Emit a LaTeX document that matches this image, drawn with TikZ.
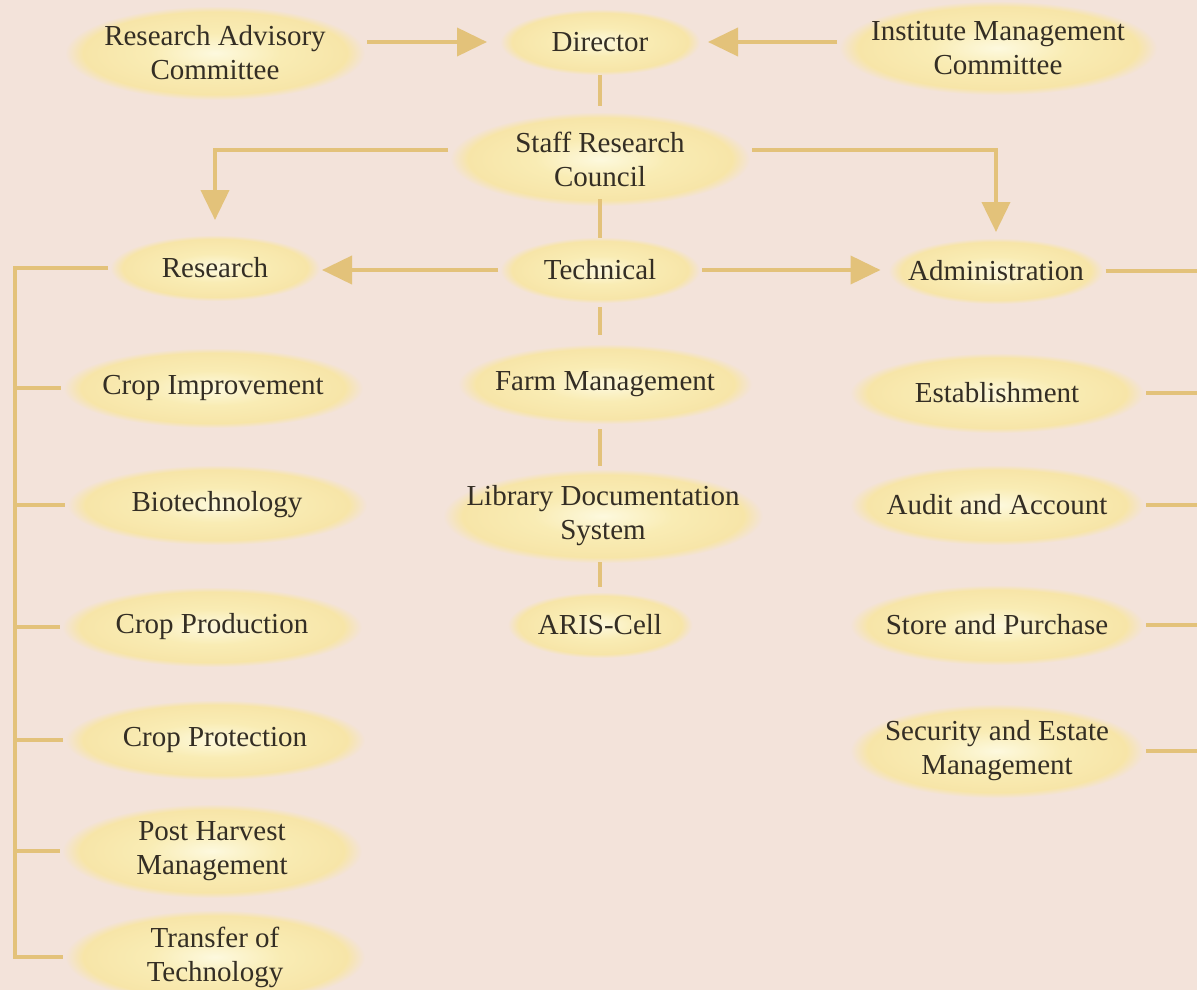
\documentclass[tikz,border=0pt]{standalone}
\usepackage{fontspec}
\setmainfont{Liberation Serif}
\usetikzlibrary{arrows.meta}
\definecolor{bgcol}{RGB}{243,227,218}
\definecolor{glowin}{RGB}{253,249,222}
\definecolor{glowmid}{RGB}{249,236,180}
\definecolor{glowout}{RGB}{247,229,168}
\definecolor{linkcol}{RGB}{227,194,122}
\definecolor{txtcol}{RGB}{52,46,36}
\pgfdeclareradialshading{glow}{\pgfpointorigin}{color(0bp)=(glowin); color(11bp)=(glowmid); color(22bp)=(glowout); color(25bp)=(bgcol); color(50bp)=(bgcol)}
\newcommand{\unitfont}{\fontsize{29}{34}\selectfont}

\begin{document}
\begin{tikzpicture}[x=1pt,y=-1pt,line width=4pt,
  unit/.style={rectangle,shade,shading=glow,minimum width=300pt,minimum height=80pt,inner sep=2pt,align=center,font=\unitfont,text=txtcol},
  twoline/.style={unit,minimum height=94pt},
  small/.style={unit,minimum width=205pt,minimum height=66pt},
  link/.style={draw=linkcol},
  arr/.style={link,-{Triangle[length=30pt,width=28pt]}}]
  \fill[bgcol] (0,0) rectangle (1197,990);
  \useasboundingbox (0,0) rectangle (1197,990);
  % top row
  \node[twoline] (rac) at (215,53) {Research Advisory\\Committee};
  \node[small,minimum width=200pt] (dir) at (600,42) {Director};
  \node[twoline,minimum width=318pt] (imc) at (998,48) {Institute Management\\Committee};
  \node[twoline] (src) at (600,159) {Staff Research\\Council};
  % second row
  \node[small,minimum width=210pt] (res) at (215,268) {Research};
  \node[small,minimum width=200pt] (tech) at (600,270) {Technical};
  \node[small,minimum width=215pt] (adm) at (996,271) {Administration};
  % research units
  \node[unit] (ci) at (213,388) {Crop Improvement};
  \node[unit] (bio) at (217,505) {Biotechnology};
  \node[unit] (cprod) at (212,627) {Crop Production};
  \node[unit] (cprot) at (215,740) {Crop Protection};
  \node[twoline] (phm) at (212,851) {Post Harvest\\Management};
  \node[twoline] (tot) at (215,957) {Transfer of\\Technology};
  % technical units
  \node[unit,minimum width=294pt] (fm) at (605,384) {Farm Management};
  \node[twoline,minimum width=320pt] (lds) at (603,516) {Library Documentation\\System};
  \node[small,minimum width=185pt] (aris) at (600,625) {ARIS-Cell};
  % administration units
  \node[unit,minimum width=294pt] (est) at (997,393) {Establishment};
  \node[unit,minimum width=294pt] (aud) at (997,505) {Audit and Account};
  \node[unit,minimum width=294pt] (sto) at (997,625) {Store and Purchase};
  \node[twoline,minimum width=294pt] (sec) at (997,751) {Security and Estate\\Management};
  % connectors
  \draw[arr,shorten >=11pt] (rac.east |- dir) -- (dir.west);
  \draw[arr,shorten >=6pt] (imc.west |- dir) -- (dir.east);
  \draw[link,shorten <=-2pt,shorten >=4pt] (dir.south) -- (src.north);
  \draw[arr,shorten >=13pt] ([yshift=9pt]src.west) -| (res.north);
  \draw[arr,shorten >=4pt] ([yshift=9pt]src.east) -| (adm.north);
  \draw[link,shorten <=-9pt,shorten >=-3pt] (src.south) -- (tech.north);
  \draw[arr] (tech.west) -- (tech.west -| res.east);
  \draw[arr,shorten >=6pt] (tech.east) -- (tech.east -| adm.west);
  \draw[link,shorten <=2pt,shorten >=7pt] (tech.south) -- (tech.south |- fm.north);
  \draw[link,shorten <=3pt,shorten >=1pt] (tech |- fm.south) -- (tech |- lds.north);
  \draw[link,shorten <=-3pt,shorten >=3pt] (tech |- lds.south) -- (aris.north);
  % left bus
  \coordinate (lbus) at (15,0);
  \draw[link] (res.west) -| (lbus |- tot) -- (tot.west);
  \foreach \n in {ci,bio,cprod,cprot,phm}
    \draw[link] (lbus |- \n) -- (\n.west);
  % right bus
  \coordinate (rbus) at (1197,0);
  \draw[link] (adm.east) -- (rbus |- adm);
  \foreach \n in {est,aud,sto,sec}
    \draw[link] (\n.east) -- (rbus |- \n);
\end{tikzpicture}
\end{document}
